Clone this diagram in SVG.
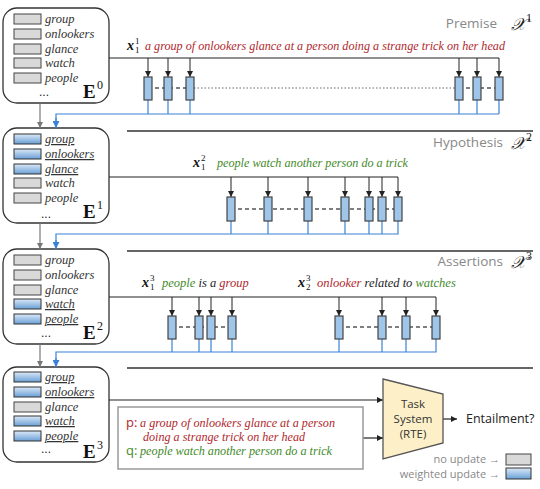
<svg xmlns="http://www.w3.org/2000/svg" width="540" height="489" viewBox="0 0 540 489">
<defs>
<linearGradient id="bg" x1="0" y1="0" x2="0" y2="1">
<stop offset="0" stop-color="#dbe9f8"/>
<stop offset="1" stop-color="#6a9fd6"/>
</linearGradient>
<marker id="ak" viewBox="0 0 10 10" refX="10" refY="5" markerWidth="6" markerHeight="6" orient="auto" markerUnits="userSpaceOnUse"><path d="M0,0 L10,5 L0,10 z" fill="#222"/></marker>
<marker id="ag" viewBox="0 0 10 10" refX="10" refY="5" markerWidth="6" markerHeight="6" orient="auto" markerUnits="userSpaceOnUse"><path d="M0,0 L10,5 L0,10 z" fill="#777"/></marker>
<marker id="ab" viewBox="0 0 10 10" refX="10" refY="5" markerWidth="7" markerHeight="7" orient="auto" markerUnits="userSpaceOnUse"><path d="M0,0 L10,5 L0,10 z" fill="#3b82d6"/></marker>
<style>
.ebox{fill:#fff;stroke:#333;stroke-width:1.3}
.tg{fill:#d9d9d9;stroke:#444;stroke-width:1}
.tb{fill:url(#bg);stroke:#333;stroke-width:1}
.w{font-family:"Liberation Serif","DejaVu Serif",serif;font-style:italic;font-size:12.5px;fill:#333}
.u{text-decoration:underline}
.E{font-family:"Liberation Serif",serif;font-weight:bold;font-size:19px;fill:#111}
.Es{font-family:"Liberation Serif",serif;font-size:12px;fill:#111}
.dots{font-family:"Liberation Sans",sans-serif;font-size:12px;fill:#222}
.sec{font-family:"Open Sans","Liberation Sans",sans-serif;font-size:13.5px;fill:#888}
.chi{font-family:"DejaVu Serif","Liberation Serif",serif;font-style:italic;font-size:17px;fill:#222}
.chs{font-family:"Liberation Serif",serif;font-size:12px;fill:#222}
.xv{font-family:"Liberation Serif",serif;font-weight:bold;font-style:italic;font-size:14px;fill:#111}
.xi{font-family:"Liberation Serif",serif;font-size:9px;fill:#111}
.s{font-family:"Liberation Serif","DejaVu Serif",serif;font-style:italic;font-size:12.5px}
.red{fill:#b0282d}
.grn{fill:#3f8a2a}
.blk{fill:#222}
.main{stroke:#222;stroke-width:1.2;fill:none}
.drop{stroke:#222;stroke-width:1;fill:none}
.tok{fill:#9fc5e8;stroke:#444;stroke-width:1.2}
.dash{stroke:#555;stroke-width:1.3;stroke-dasharray:4,3;fill:none}
.dot{stroke:#666;stroke-width:1;stroke-dasharray:1.5,2;fill:none}
.bl{stroke:#3b82d6;stroke-width:1.2;fill:none}
.gl{stroke:#777;stroke-width:1.2;fill:none}
.sep{stroke:#666;stroke-width:2}
.sans{font-family:"Open Sans","Liberation Sans",sans-serif}
</style>
</defs>
<rect width="540" height="489" fill="#fff"/>

<!-- E0 -->
<g id="E0">
<rect class="ebox" x="3" y="8" width="106" height="95" rx="14"/>
<rect class="tg" x="14" y="14" width="27" height="10"/><text class="w" x="45" y="23">group</text>
<rect class="tg" x="14" y="29" width="27" height="10"/><text class="w" x="45" y="38">onlookers</text>
<rect class="tg" x="14" y="44" width="27" height="10"/><text class="w" x="45" y="53">glance</text>
<rect class="tg" x="14" y="58" width="27" height="10"/><text class="w" x="45" y="67">watch</text>
<rect class="tg" x="14" y="73" width="27" height="10"/><text class="w" x="45" y="82">people</text>
<text class="dots" x="39" y="96">...</text>
<text class="E" x="83" y="98">E</text><text class="Es" x="97" y="89">0</text>
</g>

<!-- E1 -->
<g id="E1">
<rect class="ebox" x="3" y="128" width="106" height="95" rx="14"/>
<rect class="tb" x="14" y="134" width="27" height="10"/><text class="w u" x="45" y="143">group</text>
<rect class="tb" x="14" y="149" width="27" height="10"/><text class="w u" x="45" y="158">onlookers</text>
<rect class="tb" x="14" y="164" width="27" height="10"/><text class="w u" x="45" y="173">glance</text>
<rect class="tg" x="14" y="178" width="27" height="10"/><text class="w" x="45" y="187">watch</text>
<rect class="tg" x="14" y="193" width="27" height="10"/><text class="w" x="45" y="202">people</text>
<text class="dots" x="41" y="218">...</text>
<text class="E" x="83" y="218">E</text><text class="Es" x="97" y="209">1</text>
</g>

<!-- E2 -->
<g id="E2">
<rect class="ebox" x="3" y="249" width="106" height="95" rx="14"/>
<rect class="tg" x="14" y="255" width="27" height="10"/><text class="w" x="45" y="264">group</text>
<rect class="tg" x="14" y="270" width="27" height="10"/><text class="w" x="45" y="279">onlookers</text>
<rect class="tg" x="14" y="285" width="27" height="10"/><text class="w" x="45" y="294">glance</text>
<rect class="tb" x="14" y="299" width="27" height="10"/><text class="w u" x="45" y="308">watch</text>
<rect class="tb" x="14" y="314" width="27" height="10"/><text class="w u" x="45" y="323">people</text>
<text class="dots" x="41" y="337">...</text>
<text class="E" x="83" y="339">E</text><text class="Es" x="97" y="330">2</text>
</g>

<!-- E3 -->
<g id="E3">
<rect class="ebox" x="3" y="367" width="106" height="95" rx="14"/>
<rect class="tb" x="14" y="372" width="27" height="10"/><text class="w u" x="45" y="381">group</text>
<rect class="tb" x="14" y="387" width="27" height="10"/><text class="w u" x="45" y="396">onlookers</text>
<rect class="tg" x="14" y="402" width="27" height="10"/><text class="w" x="45" y="411">glance</text>
<rect class="tb" x="14" y="416" width="27" height="10"/><text class="w u" x="45" y="425">watch</text>
<rect class="tb" x="14" y="431" width="27" height="10"/><text class="w u" x="45" y="440">people</text>
<text class="dots" x="41" y="453">...</text>
<text class="E" x="83" y="458">E</text><text class="Es" x="97" y="449">3</text>
</g>

<!-- separators and section labels -->
<g id="labels">
<text class="sec" x="497" y="28" text-anchor="end">Premise</text>
<text class="chi" x="511" y="30">𝒳</text><text class="chs" x="526" y="22">1</text>
<line class="sep" x1="127" y1="131" x2="533" y2="131"/>
<text class="sec" x="503" y="147" text-anchor="end">Hypothesis</text>
<text class="chi" x="511" y="149">𝒳</text><text class="chs" x="526" y="141">2</text>
<line class="sep" x1="127" y1="251" x2="533" y2="251"/>
<text class="sec" x="503" y="266" text-anchor="end">Assertions</text>
<text class="chi" x="511" y="268">𝒳</text><text class="chs" x="526" y="260">3</text>
<line class="sep" x1="127" y1="368" x2="533" y2="368"/>
</g>

<!-- sentence labels -->
<g id="sentences">
<text class="xv" x="127" y="50">x</text><text class="xi" x="135" y="44">1</text><text class="xi" x="135" y="53">1</text>
<text class="s red" x="145" y="50" textLength="360" lengthAdjust="spacingAndGlyphs">a group of onlookers glance at a person doing a strange trick on her head</text>
<text class="xv" x="193" y="167">x</text><text class="xi" x="201" y="161">2</text><text class="xi" x="201" y="170">1</text>
<text class="s grn" x="217" y="167" textLength="191" lengthAdjust="spacingAndGlyphs">people watch another person do a trick</text>
<text class="xv" x="142" y="287">x</text><text class="xi" x="150" y="281">3</text><text class="xi" x="150" y="290">1</text>
<text class="s" x="162" y="287"><tspan class="grn">people</tspan><tspan class="blk"> is a </tspan><tspan class="red">group</tspan></text>
<text class="xv" x="298" y="287">x</text><text class="xi" x="306" y="281">3</text><text class="xi" x="306" y="290">2</text>
<text class="s" x="317" y="287"><tspan class="red">onlooker</tspan><tspan class="blk"> related to </tspan><tspan class="grn">watches</tspan></text>
</g>

<g id="connectors">
<!-- E chain -->
<line class="gl" x1="40" y1="103" x2="40" y2="128" marker-end="url(#ag)"/>
<line class="gl" x1="40" y1="223" x2="40" y2="249" marker-end="url(#ag)"/>
<line class="gl" x1="40" y1="344" x2="40" y2="367" marker-end="url(#ag)"/>

<!-- Premise -->
<polyline class="main" points="109,58 499,58"/>
<line class="drop" x1="148" y1="58" x2="148" y2="77" marker-end="url(#ak)"/>
<line class="drop" x1="168" y1="58" x2="168" y2="77" marker-end="url(#ak)"/>
<line class="drop" x1="190" y1="58" x2="190" y2="77" marker-end="url(#ak)"/>
<line class="drop" x1="459" y1="58" x2="459" y2="77" marker-end="url(#ak)"/>
<line class="drop" x1="477" y1="58" x2="477" y2="77" marker-end="url(#ak)"/>
<line class="drop" x1="499" y1="58" x2="499" y2="77" marker-end="url(#ak)"/>
<line class="dash" x1="148" y1="88" x2="190" y2="88"/>
<line class="dot" x1="194" y1="88" x2="455" y2="88"/>
<line class="dash" x1="459" y1="88" x2="499" y2="88"/>
<path class="bl" d="M148,100V114M168,100V114M190,100V114M459,100V114M477,100V114M499,100V114M499,114H56V128"/>
<path class="bl" d="M56,118V128" marker-end="url(#ab)"/>
<rect class="tok" x="144" y="77" width="8" height="23"/>
<rect class="tok" x="164" y="77" width="8" height="23"/>
<rect class="tok" x="186" y="77" width="8" height="23"/>
<rect class="tok" x="455" y="77" width="8" height="23"/>
<rect class="tok" x="473" y="77" width="8" height="23"/>
<rect class="tok" x="495" y="77" width="8" height="23"/>

<!-- Hypothesis -->
<polyline class="main" points="109,177 398,177"/>
<line class="drop" x1="231" y1="177" x2="231" y2="197" marker-end="url(#ak)"/>
<line class="drop" x1="268" y1="177" x2="268" y2="197" marker-end="url(#ak)"/>
<line class="drop" x1="308" y1="177" x2="308" y2="197" marker-end="url(#ak)"/>
<line class="drop" x1="345" y1="177" x2="345" y2="197" marker-end="url(#ak)"/>
<line class="drop" x1="369" y1="177" x2="369" y2="197" marker-end="url(#ak)"/>
<line class="drop" x1="382" y1="177" x2="382" y2="197" marker-end="url(#ak)"/>
<line class="drop" x1="398" y1="177" x2="398" y2="197" marker-end="url(#ak)"/>
<line class="dash" x1="231" y1="209" x2="398" y2="209"/>
<path class="bl" d="M231,221V234M268,221V234M308,221V234M345,221V234M369,221V234M382,221V234M398,221V234H56V249"/>
<path class="bl" d="M56,240V249" marker-end="url(#ab)"/>
<rect class="tok" x="227" y="197" width="8" height="24"/>
<rect class="tok" x="264" y="197" width="8" height="24"/>
<rect class="tok" x="304" y="197" width="8" height="24"/>
<rect class="tok" x="341" y="197" width="8" height="24"/>
<rect class="tok" x="365" y="197" width="8" height="24"/>
<rect class="tok" x="378" y="197" width="8" height="24"/>
<rect class="tok" x="394" y="197" width="8" height="24"/>

<!-- Assertions -->
<polyline class="main" points="109,297 436,297"/>
<line class="drop" x1="172" y1="297" x2="172" y2="316" marker-end="url(#ak)"/>
<line class="drop" x1="199" y1="297" x2="199" y2="316" marker-end="url(#ak)"/>
<line class="drop" x1="211" y1="297" x2="211" y2="316" marker-end="url(#ak)"/>
<line class="drop" x1="232" y1="297" x2="232" y2="316" marker-end="url(#ak)"/>
<line class="drop" x1="339" y1="297" x2="339" y2="316" marker-end="url(#ak)"/>
<line class="drop" x1="382" y1="297" x2="382" y2="316" marker-end="url(#ak)"/>
<line class="drop" x1="406" y1="297" x2="406" y2="316" marker-end="url(#ak)"/>
<line class="drop" x1="436" y1="297" x2="436" y2="316" marker-end="url(#ak)"/>
<line class="dash" x1="172" y1="327" x2="232" y2="327"/>
<line class="dash" x1="339" y1="327" x2="436" y2="327"/>
<path class="bl" d="M172,339V352M199,339V352M211,339V352M232,339V352M339,339V352M382,339V352M406,339V352M436,339V352H56V367"/>
<path class="bl" d="M56,358V367" marker-end="url(#ab)"/>
<rect class="tok" x="168" y="316" width="8" height="23"/>
<rect class="tok" x="195" y="316" width="8" height="23"/>
<rect class="tok" x="207" y="316" width="8" height="23"/>
<rect class="tok" x="228" y="316" width="8" height="23"/>
<rect class="tok" x="335" y="316" width="8" height="23"/>
<rect class="tok" x="378" y="316" width="8" height="23"/>
<rect class="tok" x="402" y="316" width="8" height="23"/>
<rect class="tok" x="432" y="316" width="8" height="23"/>

<!-- to task system -->
<line class="main" x1="109" y1="400" x2="383" y2="400" marker-end="url(#ak)"/>
<line class="main" x1="363" y1="438" x2="383" y2="438" marker-end="url(#ak)"/>
<line class="main" x1="443" y1="419" x2="457" y2="419" marker-end="url(#ak)"/>
</g>

<g id="pq">
<rect x="118" y="407" width="245" height="62" fill="#fff" stroke="#999" stroke-width="1.5"/>
<text class="sans red" x="126" y="427" font-size="13">p:</text>
<text class="s red" x="140" y="427" textLength="195" lengthAdjust="spacingAndGlyphs">a group of onlookers glance at a person</text>
<text class="s red" x="143" y="441" textLength="162" lengthAdjust="spacingAndGlyphs">doing a strange trick on her head</text>
<text class="sans grn" x="126" y="455" font-size="13">q:</text>
<text class="s grn" x="140" y="455" textLength="192" lengthAdjust="spacingAndGlyphs">people watch another person do a trick</text>
</g>

<g id="task">
<polygon points="383,379 443,394 443,443 383,459" fill="#fdf0c8" stroke="#555" stroke-width="1.3"/>
<text class="sans" x="413" y="408" font-size="11.5" fill="#333" text-anchor="middle">Task</text>
<text class="sans" x="413" y="423" font-size="11.5" fill="#333" text-anchor="middle">System</text>
<text class="sans" x="413" y="438" font-size="11.5" fill="#333" text-anchor="middle">(RTE)</text>
</g>

<g id="output">
<text class="sans" x="466" y="423" font-size="12.5" fill="#222">Entailment?</text>
</g>

<g id="legend">
<text class="sans" x="500" y="463" font-size="11" fill="#888" text-anchor="end">no update →</text>
<rect class="tg" x="506" y="454" width="25" height="11"/>
<text class="sans" x="500" y="478" font-size="11" fill="#888" text-anchor="end">weighted update →</text>
<rect class="tb" x="506" y="468" width="25" height="11"/>
</g>
</svg>
